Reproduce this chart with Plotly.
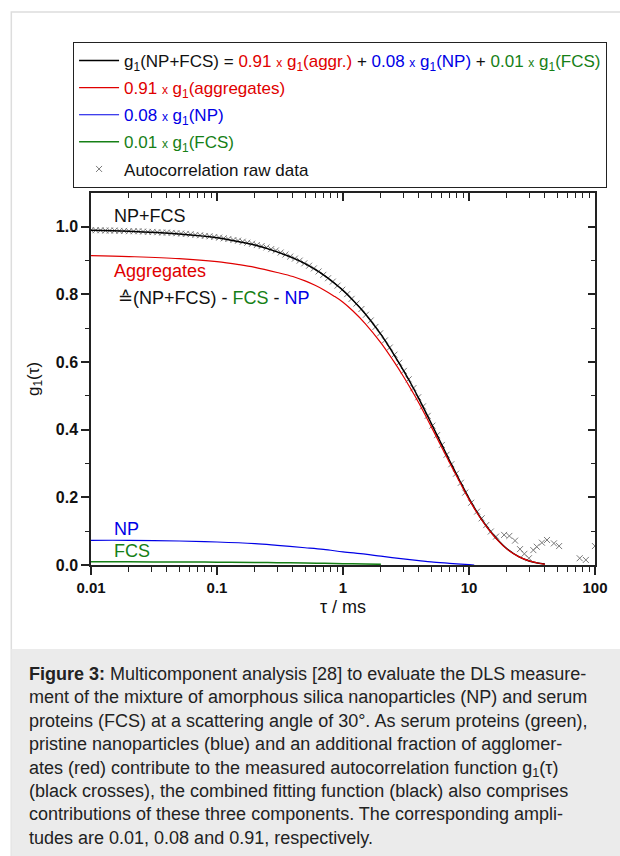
import plotly.graph_objects as go

# ---------------- data ----------------
tau_fit = [0.01, 0.02, 0.05, 0.1, 0.15, 0.2, 0.3, 0.4, 0.5, 0.6, 0.7, 0.85, 1.0, 1.2, 1.5, 2.0, 2.5, 3.0,
           3.5, 4.0, 5.0, 6.0, 7.0, 8.5, 10.0, 12.0, 14.0, 17.0, 20.0, 25.0, 30.0, 35.0, 40.0]
g_total = [0.990, 0.987, 0.979, 0.968, 0.956, 0.946, 0.926, 0.908, 0.891, 0.874, 0.858, 0.834, 0.812, 0.783,
           0.743, 0.682, 0.626, 0.577, 0.533, 0.492, 0.420, 0.360, 0.309, 0.247, 0.197, 0.147, 0.111, 0.073,
           0.048, 0.024, 0.012, 0.006, 0.003]
g_aggr = [0.915, 0.912, 0.906, 0.897, 0.888, 0.880, 0.865, 0.853, 0.840, 0.827, 0.814, 0.795, 0.777, 0.751,
          0.714, 0.657, 0.605, 0.559, 0.517, 0.479, 0.410, 0.352, 0.303, 0.243, 0.194, 0.145, 0.110, 0.072,
          0.047, 0.024, 0.012, 0.006, 0.002]

tau_np = [0.01, 0.02, 0.05, 0.1, 0.2, 0.3, 0.5, 0.7, 1.0, 1.5, 2.0, 3.0, 4.0, 5.0, 7.0, 10.0, 11.0]
g_np = [0.073, 0.073, 0.071, 0.068, 0.063, 0.058, 0.051, 0.046, 0.039, 0.032, 0.026, 0.018, 0.013, 0.009, 0.005, 0.001, 0.0]

tau_fcs = [0.01, 0.02, 0.05, 0.1, 0.2, 0.3, 0.5, 0.7, 1.0, 1.5, 2.0]
g_fcs = [0.0095, 0.0093, 0.009, 0.0085, 0.0075, 0.007, 0.006, 0.005, 0.004, 0.003, 0.002]

tau_raw = [
    0.0100, 0.0109, 0.0119, 0.0130, 0.0141, 0.0154, 0.0168, 0.0183,
    0.0200, 0.0218, 0.0238, 0.0259, 0.0283, 0.0308, 0.0336, 0.0367,
    0.0400, 0.0436, 0.0476, 0.0519, 0.0566, 0.0617, 0.0673, 0.0734,
    0.0800, 0.0872, 0.0951, 0.104, 0.113, 0.123, 0.135, 0.147,
    0.160, 0.174, 0.190, 0.207, 0.226, 0.247, 0.269, 0.293,
    0.320, 0.349, 0.381, 0.415, 0.453, 0.493, 0.538, 0.587,
    0.640, 0.698, 0.761, 0.830, 0.905, 0.987, 1.08, 1.17,
    1.28, 1.40, 1.52, 1.66, 1.81, 1.97, 2.15, 2.35,
    2.56, 2.79, 3.04, 3.32, 3.62, 3.95, 4.31, 4.70,
    5.12, 5.58, 6.09, 6.64, 7.24, 7.89, 8.61,
    9.33, 10.4, 11.6, 12.6, 13.7, 14.9, 16.4, 19.0, 20.9, 23.2, 25.4, 27.5,
    29.9, 32.4, 34.5, 37.9, 41.6, 47.2, 51.9, 75.6, 84.6, 99.9,
]
g_raw = [
    0.990, 0.990, 0.990, 0.989, 0.989, 0.989, 0.988, 0.988,
    0.987, 0.987, 0.987, 0.986, 0.985, 0.985, 0.984, 0.983,
    0.983, 0.982, 0.981, 0.980, 0.979, 0.978, 0.976, 0.975,
    0.973, 0.972, 0.970, 0.968, 0.966, 0.964, 0.961, 0.959,
    0.956, 0.953, 0.950, 0.946, 0.943, 0.939, 0.934, 0.930,
    0.924, 0.918, 0.912, 0.906, 0.900, 0.892, 0.885, 0.877,
    0.868, 0.858, 0.848, 0.838, 0.826, 0.814, 0.801, 0.787,
    0.773, 0.757, 0.740, 0.723, 0.704, 0.685, 0.664, 0.643,
    0.622, 0.598, 0.574, 0.549, 0.523, 0.496, 0.469, 0.441,
    0.412, 0.384, 0.355, 0.326, 0.298, 0.270, 0.243,
    0.214, 0.184, 0.158, 0.138, 0.118, 0.099, 0.084, 0.089, 0.086, 0.072, 0.047, 0.033,
    0.020, 0.044, 0.054, 0.066, 0.074, 0.064, 0.056, 0.020, 0.015, 0.056,
]

x_major = [0.01, 0.1, 1, 10, 100]
x_major_text = ["0.01", "0.1", "1", "10", "100"]
x_minor = [m * d for d in (0.01, 0.1, 1, 10) for m in range(2, 10)]
y_major = [0.0, 0.2, 0.4, 0.6, 0.8, 1.0]
y_major_text = ["0.0", "0.2", "0.4", "0.6", "0.8", "1.0"]
y_minor = [0.1, 0.3, 0.5, 0.7, 0.9]

# ---------------- colours / geometry ----------------
RED = "#e00000"
BLUE = "#0000e6"
GREEN = "#168016"
FONT = "Liberation Sans, Arial, sans-serif"
W, H = 620, 856
L, R, T, B = 91, 597, 193, 565


def px(x):
    return (x - L) / (R - L)


def py(y):
    return (B - y) / (B - T)


def xs(col):
    return f'<span style="font-size:12px;color:{col}">x</span>'


def comp_name(amp, label, col):
    return (
        f'<span style="color:{col}">{amp} </span>{xs(col)}'
        f'<span style="color:{col}"> g</span><span style="color:{col}"><sub>1</sub></span>'
        f'<span style="color:{col}">({label})</span>'
    )


name_total = (
    "g<sub>1</sub>(NP+FCS) = "
    + comp_name("0.91", "aggr.", RED)
    + " + "
    + comp_name("0.08", "NP", BLUE)
    + " + "
    + comp_name("0.01", "FCS", GREEN)
)

fig = go.Figure()

fig.add_trace(go.Scatter(
    x=tau_raw, y=g_raw, mode="markers", name="Autocorrelation raw data",
    marker=dict(symbol="x-thin", size=6, line=dict(width=1, color="#7a7a7a"), color="#7a7a7a"),
    legendrank=5, legendgroup="e",
))
fig.add_trace(go.Scatter(
    x=tau_fit, y=g_total, mode="lines", name=name_total,
    line=dict(color="#000000", width=1.5, shape="spline"), legendrank=1, legendgroup="a",
))
fig.add_trace(go.Scatter(
    x=tau_fcs, y=g_fcs, mode="lines", name=comp_name("0.01", "FCS", GREEN),
    line=dict(color=GREEN, width=1.5, shape="spline"), legendrank=4, legendgroup="d",
))
fig.add_trace(go.Scatter(
    x=tau_np, y=g_np, mode="lines", name=comp_name("0.08", "NP", BLUE),
    line=dict(color=BLUE, width=1.2, shape="spline"), legendrank=3, legendgroup="c",
))
fig.add_trace(go.Scatter(
    x=tau_fit, y=g_aggr, mode="lines", name=comp_name("0.91", "aggregates", RED),
    line=dict(color=RED, width=1.2, shape="spline"), legendrank=2, legendgroup="b",
))
# helper traces so the mirrored (inside-tick) axes are drawn
fig.add_trace(go.Scatter(x=[None], y=[None], xaxis="x2", yaxis="y", showlegend=False, hoverinfo="skip"))
fig.add_trace(go.Scatter(x=[None], y=[None], xaxis="x", yaxis="y2", showlegend=False, hoverinfo="skip"))

axis_line = dict(showline=True, linecolor="#222222", linewidth=1.5, showgrid=False, zeroline=False)

fig.update_layout(
    width=W, height=H, autosize=False,
    margin=dict(l=L, r=W - R, t=T, b=H - B, pad=0),
    paper_bgcolor="white", plot_bgcolor="white",
    font=dict(family=FONT, size=17, color="#111111"),
    xaxis=dict(
        type="log", range=[-2, 2], **axis_line,
        ticks="outside", ticklen=8, tickwidth=1.5, tickcolor="#222222",
        tickmode="array", tickvals=x_major, ticktext=x_major_text,
        tickfont=dict(family=FONT, size=15, weight="bold", color="#111111"),
        minor=dict(ticks="outside", ticklen=5, tickwidth=1, tickcolor="#222222", tickvals=x_minor),
        title=dict(text="τ / ms", font=dict(family=FONT, size=18), standoff=6),
    ),
    xaxis2=dict(
        type="log", range=[-2, 2], overlaying="x", side="top", anchor="y", **axis_line,
        ticks="inside", ticklen=8, tickwidth=1.5, tickcolor="#222222",
        tickmode="array", tickvals=x_major, showticklabels=False,
        minor=dict(ticks="inside", ticklen=5, tickwidth=1, tickcolor="#222222", tickvals=x_minor),
    ),
    yaxis=dict(
        range=[0, 1.1], **axis_line,
        ticks="outside", ticklen=8, tickwidth=1.5, tickcolor="#222222",
        tickmode="array", tickvals=y_major, ticktext=y_major_text,
        tickfont=dict(family=FONT, size=16, weight="bold", color="#111111"),
        minor=dict(ticks="outside", ticklen=4, tickwidth=1, tickcolor="#222222", tickvals=y_minor),
        title=dict(text="g<sub>1</sub>(τ)", font=dict(family=FONT, size=17), standoff=12),
    ),
    yaxis2=dict(
        range=[0, 1.1], overlaying="y", side="right", anchor="x", **axis_line,
        ticks="inside", ticklen=7, tickwidth=1.5, tickcolor="#222222",
        tickmode="array", tickvals=y_major, showticklabels=False,
        minor=dict(ticks="inside", ticklen=4, tickwidth=1, tickcolor="#222222", tickvals=y_minor),
    ),
    legend=dict(
        x=px(73), y=py(42), xanchor="left", yanchor="top",
        bgcolor="white", bordercolor="#222222", borderwidth=1,
        font=dict(family=FONT, size=17, color="#111111"),
        tracegroupgap=2, itemwidth=40,
    ),
    showlegend=True,
)

# frame of the figure panel and the caption background
fig.add_shape(type="rect", xref="paper", yref="paper", layer="below",
              x0=px(11), x1=px(640), y0=py(880), y1=py(12),
              line=dict(color="#dddddd", width=1.5), fillcolor="white")
fig.add_shape(type="rect", xref="paper", yref="paper", layer="below",
              x0=px(11), x1=px(640), y0=py(880), y1=py(649),
              line=dict(width=0), fillcolor="#ebebeb")

# in-plot labels (x given as log10 of tau)
ann_font = dict(family=FONT, size=18)
labels = [
    (-1.834, 1.033, "NP+FCS", "#111111"),
    (-1.834, 0.870, "Aggregates", RED),
    (-1.834, 0.107, "NP", BLUE),
    (-1.834, 0.041, "FCS", GREEN),
]
for lx, ly, txt, col in labels:
    fig.add_annotation(x=lx, y=ly, xref="x", yref="y", text=txt, showarrow=False,
                       xanchor="left", yanchor="middle", font=dict(color=col, **ann_font))
fig.add_annotation(
    x=-1.80, y=0.79, xref="x", yref="y", showarrow=False, xanchor="left", yanchor="middle",
    text=f'≙(NP+FCS) - <span style="color:{GREEN}">FCS</span> - <span style="color:{BLUE}">NP</span>',
    font=dict(color="#111111", **ann_font),
)

caption = "<br>".join([
    "<b>Figure 3:</b> Multicomponent analysis [28] to evaluate the DLS measure-",
    "ment of the mixture of amorphous silica nanoparticles (NP) and serum",
    "proteins (FCS) at a scattering angle of 30°. As serum proteins (green),",
    "pristine nanoparticles (blue) and an additional fraction of agglomer-",
    "ates (red) contribute to the measured autocorrelation function g<sub>1</sub>(τ)",
    "(black crosses), the combined fitting function (black) also comprises",
    "contributions of these three components. The corresponding ampli-",
    "tudes are 0.01, 0.08 and 0.91, respectively.",
])
fig.add_annotation(x=px(27), y=py(662), xref="paper", yref="paper", showarrow=False,
                   xanchor="left", yanchor="top", align="left", text=caption,
                   font=dict(family=FONT, size=18, color="#222222"))

fig.write_html(
    "out.html",
    config={"displayModeBar": False},
    post_script="document.body.style.margin='0';document.body.style.overflow='hidden';",
)
